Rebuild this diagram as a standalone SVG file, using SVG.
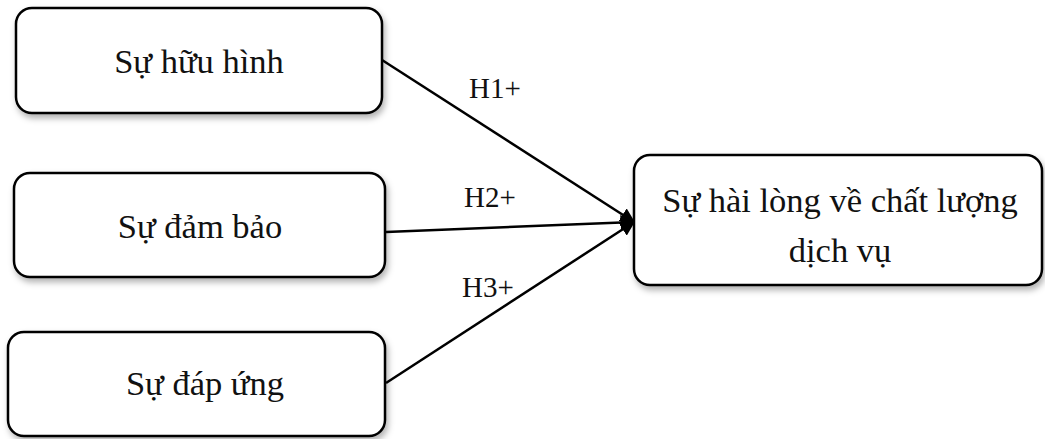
<svg xmlns="http://www.w3.org/2000/svg" width="1045" height="439" viewBox="0 0 1045 439">
<style>
.box{fill:#fff;stroke:#000;stroke-width:2.5;filter:url(#sh)}
.t{font-family:"Liberation Serif","Times New Roman",serif;font-size:34.5px;fill:#111;text-anchor:middle}
.h{font-family:"Liberation Serif","Times New Roman",serif;font-size:29px;fill:#111;text-anchor:middle}
.c{stroke:#000;stroke-width:2.5;fill:none;marker-end:url(#ah)}
</style>
<defs>
<filter id="sh" x="-5%" y="-10%" width="112%" height="130%">
<feDropShadow dx="2" dy="4" stdDeviation="3" flood-color="#000" flood-opacity="0.3"/>
</filter>
<marker id="ah" viewBox="0 0 10 10" refX="9" refY="5" markerWidth="6" markerHeight="6" orient="auto" markerUnits="strokeWidth">
<path d="M0,0 L10,5 L0,10 z" fill="#000"/>
</marker>
</defs>
<g id="connectors">
<line class="c" x1="382" y1="60" x2="634" y2="222"/>
<line class="c" x1="386" y1="232" x2="634" y2="222"/>
<line class="c" x1="386" y1="383" x2="634" y2="222"/>
<text class="h" x="495" y="98">H1+</text>
<text class="h" x="490" y="207">H2+</text>
<text class="h" x="488" y="297">H3+</text>
</g>
<g id="n1">
<rect class="box" x="16" y="8" width="366" height="105" rx="16"/>
<text class="t" x="199" y="73">Sự hữu hình</text>
</g>
<g id="n2">
<rect class="box" x="14" y="173" width="371" height="104" rx="16"/>
<text class="t" x="200" y="238">Sự đảm bảo</text>
</g>
<g id="n3">
<rect class="box" x="8" y="332" width="377" height="104" rx="16"/>
<text class="t" x="205" y="395">Sự đáp ứng</text>
</g>
<g id="n4">
<rect class="box" x="634" y="155" width="408" height="130" rx="16"/>
<text class="t" x="840" y="212">Sự hài lòng về chất lượng</text>
<text class="t" x="840" y="262">dịch vụ</text>
</g>
</svg>
